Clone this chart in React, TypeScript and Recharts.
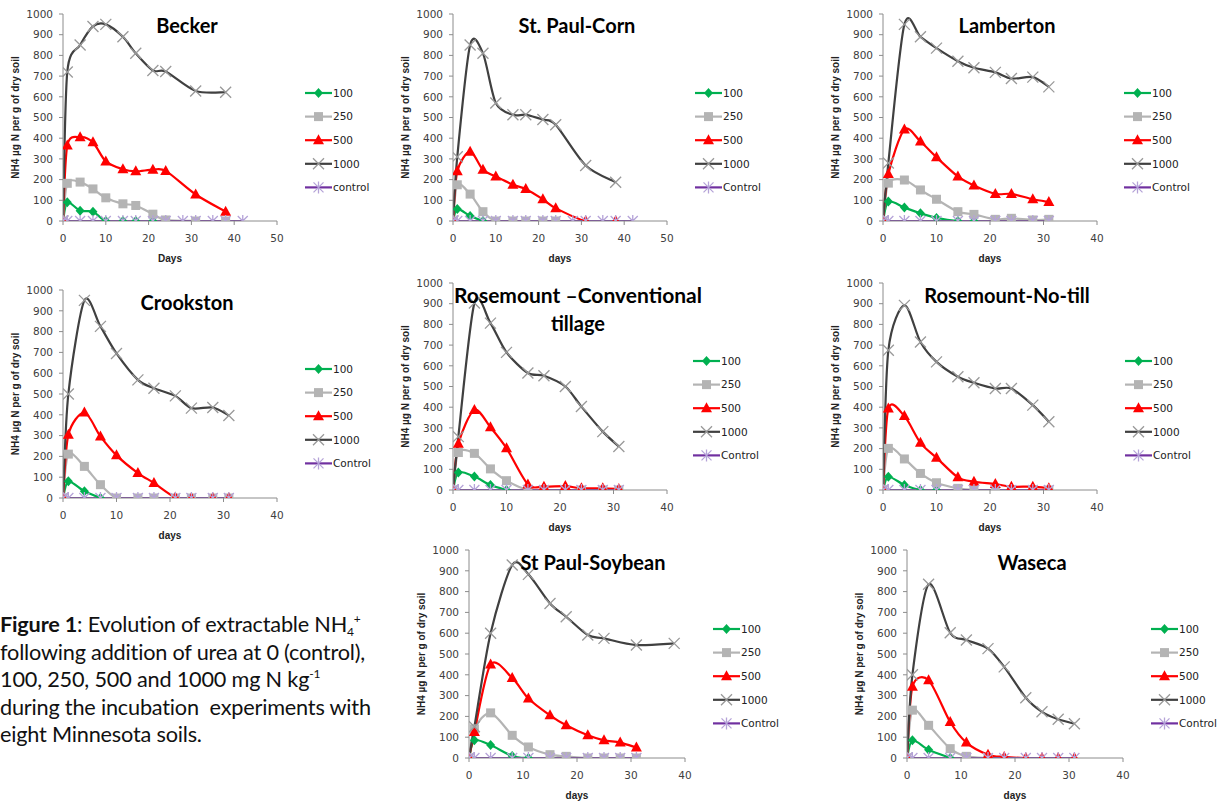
import { LineChart, Line, XAxis, YAxis, Legend } from 'recharts';

// sampling days (shared by the series of one panel)
const daysLong = [0, 1, 4, 7, 10, 14, 17, 21, 24, 28, 31, 35, 38, 42];
const daysShort = [0, 1, 4, 7, 10, 14, 17, 21, 24, 28, 31];
const daysSoy = [0, 1, 4, 8, 11, 15, 18, 22, 25, 28, 31, 38];
const daysWaseca = [0, 1, 4, 8, 11, 15, 18, 22, 25, 28, 31];

// Becker
const becker100 = [0, 90, 50, 45, 0, 0, 0, 0];
const becker250 = [0, 182, 188, 155, 112, 83, 75, 33, 5, null, 0, null, 0];
const becker500 = [0, 365, 405, 380, 288, 250, 240, 248, 242, null, 128, null, 45];
const becker1000 = [0, 720, 850, 940, 950, 890, 810, 727, 722, null, 628, null, 622];
const beckerControl = [0, 0, 0, 0, 0, 0, 0, 0, 0, 0, 0, 0, 0, 0];

// St. Paul-Corn
const corn100 = [0, 58, 24, 0];
const corn250 = [0, 175, 130, 45, 0, 0, 0, 0, 0];
const corn500 = [0, 240, 335, 247, 215, 175, 155, 105, 62, null, 0, null, 0];
const corn1000 = [0, 310, 850, 810, 570, 513, 513, 490, 465, null, 268, null, 187];
const cornControl = [0, 0, 0, 0, 0, 0, 0, 0, 0, 0, 0, 0, 0, 0];

// Lamberton
const lamb100 = [0, 94, 65, 37, 15, 0, 0];
const lamb250 = [0, 183, 198, 150, 105, 45, 32, 8, 13, 5, 8];
const lamb500 = [0, 227, 442, 384, 308, 215, 171, 131, 131, 105, 92];
const lamb1000 = [0, 280, 950, 890, 835, 772, 740, 718, 688, 695, 648];
const lambControl = [0, 0, 0, 0, 0, 0, 0, 0, 0, 0, 0];

// Crookston
const crook100 = [0, 80, 32, 0];
const crook250 = [0, 211, 152, 64, 0, 0, 0, 0, 0, 0, 0];
const crook500 = [0, 304, 411, 296, 205, 120, 72, 3, 0, 0, 0];
const crook1000 = [0, 500, 950, 825, 695, 568, 528, 491, 432, 435, 397];
const crookControl = [0, 0, 0, 0, 0, 0, 0, 0, 0, 0, 0];

// Rosemount - conventional tillage
const rconv100 = [0, 85, 65, 24, 0];
const rconv250 = [0, 181, 177, 102, 45, 0, 0, 0, 0, 0, 0];
const rconv500 = [0, 223, 387, 303, 202, 27, 16, 19, 8, 8, 5];
const rconv1000 = [0, 258, 903, 806, 665, 565, 552, 500, 403, 282, 210];
const rconvControl = [0, 0, 0, 0, 0, 0, 0, 0, 0, 0, 0];

// Rosemount - no-till
const notill100 = [0, 64, 24, 0, 0, 0];
const notill250 = [0, 201, 150, 80, 35, 8, 0, 0, 0, 0, 0];
const notill500 = [0, 394, 357, 228, 156, 61, 40, 29, 16, 16, 8];
const notill1000 = [0, 675, 892, 715, 619, 547, 518, 490, 490, 410, 330];
const notillControl = [0, 0, 0, 0, 0, 0, 0, 0, 0, 0, 0];

// St Paul-Soybean
const soy100 = [0, 85, 62, 10, 0, 0];
const soy250 = [0, 140, 217, 109, 53, 16, 8, 0, 0, 0, 0];
const soy500 = [0, 125, 450, 385, 286, 205, 157, 109, 85, 74, 50];
const soy1000 = [0, 150, 600, 928, 883, 743, 679, 591, 575, null, 543, 551];
const soyControl = [0, 0, 0, 0, 0, 0, 0, 0, 0, 0, 0];

// Waseca
const was100 = [0, 85, 40, 0];
const was250 = [0, 230, 157, 45, 8, 0];
const was500 = [0, 342, 374, 173, 74, 16, 5, 0, 0, 0, 0];
const was1000 = [0, 400, 835, 602, 567, 526, 438, 290, 222, 186, 165];
const wasControl = [0, 0, 0, 0, 0, 0, 0, 0, 0, 0, 0];

const yTicks = [0, 100, 200, 300, 400, 500, 600, 700, 800, 900, 1000];
const xTicks50 = [0, 10, 20, 30, 40, 50];
const xTicks40 = [0, 10, 20, 30, 40];

const SERIES = [
  { key: 's100', name: '100', color: '#00B050', marker: 'diamond' },
  { key: 's250', name: '250', color: '#B4B4B4', marker: 'square' },
  { key: 's500', name: '500', color: '#FF0000', marker: 'triangle' },
  { key: 's1000', name: '1000', color: '#404040', marker: 'cross' },
  { key: 'ctrl', name: 'Control', color: '#7030A0', marker: 'star' },
];

const toRows = (days: number[], s: (number | null)[][]) =>
  days.map((day, i) => {
    const row: any = { day };
    SERIES.forEach((ser, j) => (row[ser.key] = s[j][i] ?? null));
    return row;
  });

const PANELS = [
  {
    title: ['Becker'], tx: 187, ty: 25, xLabel: 'Days', ctrl: 'control', xTicks: xTicks50,
    rows: toRows(daysLong, [becker100, becker250, becker500, becker1000, beckerControl]),
    plot: { x: 63, y: 14, w: 214, h: 207 }, legend: { x: 305, y: 93 },
  },
  {
    title: ['St. Paul-Corn'], tx: 577, ty: 25, xLabel: 'days', ctrl: 'Control', xTicks: xTicks50,
    rows: toRows(daysLong, [corn100, corn250, corn500, corn1000, cornControl]),
    plot: { x: 453, y: 14, w: 214, h: 207 }, legend: { x: 695, y: 93 },
  },
  {
    title: ['Lamberton'], tx: 1007, ty: 25, xLabel: 'days', ctrl: 'Control', xTicks: xTicks40,
    rows: toRows(daysShort, [lamb100, lamb250, lamb500, lamb1000, lambControl]),
    plot: { x: 883, y: 14, w: 214, h: 207 }, legend: { x: 1124, y: 93 },
  },
  {
    title: ['Crookston'], tx: 187, ty: 302, xLabel: 'days', ctrl: 'Control', xTicks: xTicks40,
    rows: toRows(daysShort, [crook100, crook250, crook500, crook1000, crookControl]),
    plot: { x: 63, y: 290, w: 214, h: 208 }, legend: { x: 305, y: 369 },
  },
  {
    title: ['Rosemount \u2013Conventional', 'tillage'], tx: 578, ty: 295, xLabel: 'days', ctrl: 'Control', xTicks: xTicks40,
    rows: toRows(daysShort, [rconv100, rconv250, rconv500, rconv1000, rconvControl]),
    plot: { x: 453, y: 283, w: 214, h: 207 }, legend: { x: 693, y: 361 },
  },
  {
    title: ['Rosemount-No-till'], tx: 1007, ty: 295, xLabel: 'days', ctrl: 'Control', xTicks: xTicks40,
    rows: toRows(daysShort, [notill100, notill250, notill500, notill1000, notillControl]),
    plot: { x: 883, y: 283, w: 214, h: 207 }, legend: { x: 1125, y: 361 },
  },
  {
    title: ['St Paul-Soybean'], tx: 593, ty: 562, xLabel: 'days', ctrl: 'Control', xTicks: xTicks40,
    rows: toRows(daysSoy, [soy100, soy250, soy500, soy1000, soyControl]),
    plot: { x: 469, y: 550, w: 216, h: 208 }, legend: { x: 713, y: 629 },
  },
  {
    title: ['Waseca'], tx: 1032, ty: 562, xLabel: 'days', ctrl: 'Control', xTicks: xTicks40,
    rows: toRows(daysWaseca, [was100, was250, was500, was1000, wasControl]),
    plot: { x: 907, y: 550, w: 216, h: 208 }, legend: { x: 1151, y: 629 },
  },
];

// Excel-like smoothed line (softened Catmull-Rom through the points)
const SMOOTH = 1 / 7;
const excelSmooth = (context: any) => {
  let pts: number[][] = [];
  return {
    areaStart() {},
    areaEnd() {},
    lineStart() {
      pts = [];
    },
    point(x: number, y: number) {
      pts.push([+x, +y]);
    },
    lineEnd() {
      const n = pts.length;
      if (!n) return;
      context.moveTo(pts[0][0], pts[0][1]);
      for (let i = 0; i < n - 1; i++) {
        const p0 = pts[i - 1] || pts[i];
        const p1 = pts[i];
        const p2 = pts[i + 1];
        const p3 = pts[i + 2] || p2;
        context.bezierCurveTo(
          p1[0] + (p2[0] - p0[0]) * SMOOTH, p1[1] + (p2[1] - p0[1]) * SMOOTH,
          p2[0] - (p3[0] - p1[0]) * SMOOTH, p2[1] - (p3[1] - p1[1]) * SMOOTH,
          p2[0], p2[1]
        );
      }
    },
  };
};

function Marker({ kind, x, y }: { kind: string; x: number; y: number }) {
  if (kind === 'diamond')
    return <polygon points={`${x},${y - 5} ${x + 4.5},${y} ${x},${y + 5} ${x - 4.5},${y}`} fill="#00B050" />;
  if (kind === 'square') return <rect x={x - 4.5} y={y - 4.5} width={9} height={9} fill="#B4B4B4" />;
  if (kind === 'triangle')
    return <polygon points={`${x},${y - 6} ${x + 5.5},${y + 4} ${x - 5.5},${y + 4}`} fill="#FF0000" />;
  if (kind === 'cross')
    return (
      <path d={`M${x - 5.5},${y - 5.5}L${x + 5.5},${y + 5.5}M${x - 5.5},${y + 5.5}L${x + 5.5},${y - 5.5}`} stroke="#999999" strokeWidth={1.3} fill="none" />
    );
  return (
    <path
      d={`M${x - 5},${y - 5}L${x + 5},${y + 5}M${x - 5},${y + 5}L${x + 5},${y - 5}M${x},${y - 6}L${x},${y + 6}`}
      stroke="#B5A3D8" strokeWidth={1.3} fill="none"
    />
  );
}

const dotRenderer = (kind: string) => (props: any) => {
  const { cx, cy, index, value } = props;
  if (value == null || cy == null || isNaN(cy)) return <g key={index} />;
  return (
    <g key={index}>
      <Marker kind={kind} x={cx} y={cy} />
    </g>
  );
};

const ROW = 23.6;
const LegendBox = ({ ctrl }: { ctrl: string }) => (
  <svg width={90} height={5 * ROW} style={{ display: 'block' }}>
    {SERIES.map((s, i) => {
      const cy = 8 + i * ROW;
      return (
        <g key={s.key}>
          <line x1={0} x2={27} y1={cy} y2={cy} stroke={s.color} strokeWidth={2.2} />
          <Marker kind={s.marker} x={13.5} y={cy} />
          <text x={28} y={cy} dy="0.36em" fontSize={10.5} fontFamily="DejaVu Sans" fill="#222">
            {i === 4 ? ctrl : s.name}
          </text>
        </g>
      );
    })}
  </svg>
);

const AXIS = '#8C8C8C';
const TICK = { fontSize: 10.5, fontFamily: 'DejaVu Sans', fill: '#404040' };

function Panel({ p }: { p: (typeof PANELS)[number] }) {
  const YW = 63;
  const TOP = 15;
  const cLeft = p.plot.x - YW;
  const cTop = p.plot.y - TOP;
  const width = p.legend.x + 85 - cLeft;
  const height = TOP + p.plot.h + 45;
  const xMax = p.xTicks[p.xTicks.length - 1];
  return (
    <>
      <div style={{ position: 'absolute', left: cLeft, top: cTop }}>
        <LineChart
          width={width}
          height={height}
          data={p.rows}
          margin={{ top: TOP, right: width - YW - p.plot.w, bottom: 0, left: 0 }}
        >
          <XAxis
            dataKey="day"
            type="number"
            domain={[0, xMax]}
            ticks={p.xTicks}
            interval={0}
            allowDataOverflow
            height={45}
            stroke={AXIS}
            tickSize={4}
            tickMargin={10}
            tick={TICK}
            label={() => (
              <text x={YW + p.plot.w / 2} y={TOP + p.plot.h + 37} dy="0.35em" textAnchor="middle"
                fontSize={10} fontWeight="bold" fontFamily="Liberation Sans" fill="#222">
                {p.xLabel}
              </text>
            )}
          />
          <YAxis
            type="number"
            domain={[0, 1000]}
            ticks={yTicks}
            interval={0}
            allowDataOverflow
            width={YW}
            stroke={AXIS}
            tickSize={4}
            tickMargin={6}
            tick={TICK}
            label={() => (
              <text x={15} y={TOP + p.plot.h / 2} dy="0.35em" textAnchor="middle"
                transform={`rotate(-90 15 ${TOP + p.plot.h / 2})`}
                fontSize={10} fontWeight="bold" fontFamily="Liberation Sans" fill="#222">
                NH4 µg N per g of dry soil
              </text>
            )}
          />
          {SERIES.map((s) => (
            <Line
              key={s.key}
              dataKey={s.key}
              name={s.name}
              type={excelSmooth as any}
              stroke={s.color}
              strokeWidth={2.2}
              connectNulls
              dot={dotRenderer(s.marker)}
              activeDot={false}
              isAnimationActive={false}
            />
          ))}
          <Legend
            layout="vertical"
            align="center"
            verticalAlign="middle"
            wrapperStyle={{ left: p.legend.x - cLeft, top: p.legend.y - 8 - cTop, width: 90 }}
            content={() => <LegendBox ctrl={p.ctrl} />}
          />
        </LineChart>
      </div>
      {p.title.map((t, i) => (
        <div
          key={t}
          style={{
            position: 'absolute', left: p.tx - 160, width: 320, top: p.ty - 14 + i * 28, height: 28,
            lineHeight: '28px', textAlign: 'center', fontFamily: 'Lato', fontWeight: 'bold',
            fontSize: i === 0 && p.title.length > 1 ? 21 : 20, color: '#000', whiteSpace: 'nowrap',
          }}
        >
          {t}
        </div>
      ))}
    </>
  );
}

export default function App() {
  const sub = { fontSize: 12, verticalAlign: '-4px', lineHeight: 0 } as const;
  const sup = { fontSize: 12, verticalAlign: '9px', lineHeight: 0 } as const;
  return (
    <div style={{ position: 'absolute', left: 0, top: 0, width: 1225, height: 804, background: '#fff', overflow: 'hidden' }}>
      {PANELS.map((p, i) => (
        <Panel key={i} p={p} />
      ))}
      <div
        style={{
          position: 'absolute', left: 0, top: 611, fontFamily: 'Lato', fontSize: 21.7,
          lineHeight: '27.5px', color: '#111', whiteSpace: 'nowrap', letterSpacing: -0.2,
        }}
      >
        <b>Figure 1</b>: Evolution of extractable NH<span style={sub}>4</span>
        <span style={sup}>+</span>
        <br />
        following addition of urea at 0 (control),
        <br />
        100, 250, 500 and 1000 mg N kg<span style={sup}>-1</span>
        <br />
        during the incubation&nbsp; experiments with
        <br />
        eight Minnesota soils.
      </div>
    </div>
  );
}
